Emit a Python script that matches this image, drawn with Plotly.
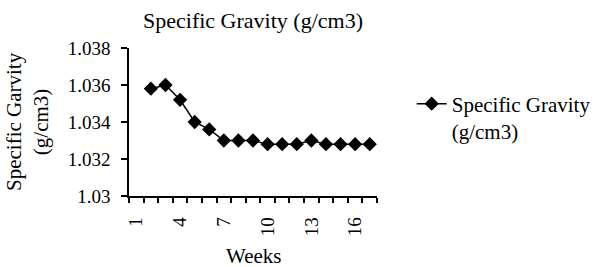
import plotly.graph_objects as go

weeks = [2, 3, 4, 5, 6, 7, 8, 9, 10, 11, 12, 13, 14, 15, 16, 17]
specific_gravity = [1.0358, 1.036, 1.0352, 1.034, 1.0336, 1.033, 1.033, 1.033,
                    1.0328, 1.0328, 1.0328, 1.033, 1.0328, 1.0328, 1.0328, 1.0328]
x_tick_vals = [1, 4, 7, 10, 13, 16]
x_tick_text = ["1", "4", "7", "10", "13", "16"]
y_tick_vals = [1.03, 1.032, 1.034, 1.036, 1.038]
y_tick_text = ["1.03", "1.032", "1.034", "1.036", "1.038"]
n_categories = 17

FONT = "Liberation Serif, Times New Roman, serif"

fig = go.Figure()
fig.add_trace(go.Scatter(
    x=weeks, y=specific_gravity, mode="lines+markers",
    name="Specific Gravity<br>(g/cm3)",
    line=dict(color="black", width=1.5),
    marker=dict(symbol="diamond", size=11, color="black"),
))

fig.update_layout(
    width=594, height=267,
    margin=dict(l=129, r=217, t=48, b=71, autoexpand=False),
    paper_bgcolor="white", plot_bgcolor="white",
    font=dict(family=FONT, size=21, color="black"),
    title=dict(text="Specific Gravity (g/cm3)", x=(129 + 377) / 2 / 594, xanchor="center",
               y=1 - 20 / 267, yanchor="middle", font=dict(size=22)),
    showlegend=True,
    legend=dict(x=1.14, xanchor="left", y=0.76, yanchor="top", valign="top",
                font=dict(size=21), bgcolor="rgba(0,0,0,0)", tracegroupgap=0,
                borderwidth=0),
    xaxis=dict(
        range=[0.5, n_categories + 0.5], tickvals=x_tick_vals, ticktext=x_tick_text,
        tickangle=-90, ticks="", showgrid=False, zeroline=False,
        showline=True, linecolor="black", linewidth=1.5,
        minor=dict(tick0=0.5, dtick=1, ticks="outside", ticklen=5, tickcolor="black", tickwidth=1.5),
        tickfont=dict(size=19), ticklabelstandoff=12,
    ),
    yaxis=dict(
        range=[1.03, 1.038], tickvals=y_tick_vals, ticktext=y_tick_text,
        ticks="outside", ticklen=6, tickcolor="black", tickwidth=1.5,
        showgrid=False, zeroline=False,
        showline=True, linecolor="black", linewidth=1.5,
        tickfont=dict(size=19), ticklabelstandoff=7,
    ),
    annotations=[
        dict(text="Specific Garvity<br>(g/cm3)", textangle=-90, xref="paper", yref="paper",
             x=(27 - 129) / 248, y=0.5, xanchor="center", yanchor="middle",
             showarrow=False, font=dict(size=21)),
        dict(text="Weeks", xref="paper", yref="paper", x=0.5, y=(196 - 255.5) / 148,
             xanchor="center", yanchor="middle", showarrow=False, font=dict(size=21)),
    ],
)

fig.write_html("out.html", config={"displayModeBar": False},
               post_script="document.body.style.margin='0';")
